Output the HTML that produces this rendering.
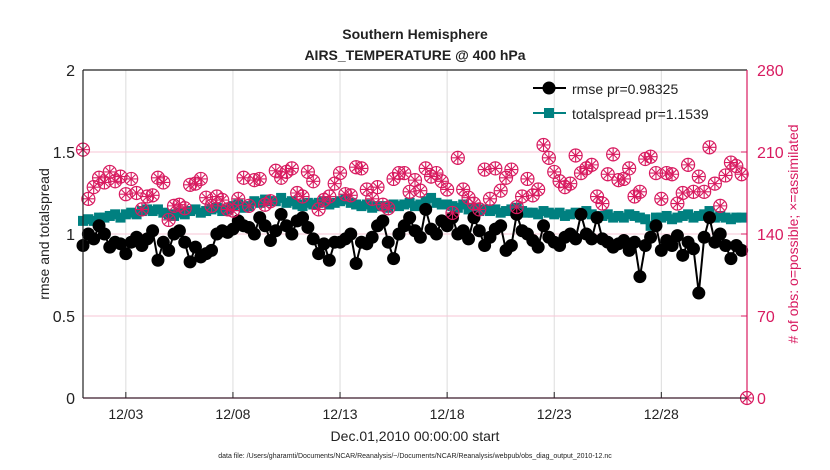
<!DOCTYPE html>
<html><head><meta charset="utf-8"><style>
body{margin:0;background:#fff;width:830px;height:470px;overflow:hidden}
svg{display:block;font-family:"Liberation Sans",Arial,sans-serif}
</style></head><body>
<svg id="chart" width="830" height="470">
<text x="415" y="39" text-anchor="middle" font-size="14" font-weight="bold" fill="#222">Southern Hemisphere</text>
<text x="415" y="60" text-anchor="middle" font-size="14" font-weight="bold" fill="#222">AIRS_TEMPERATURE @ 400 hPa</text>
<g id="grid"></g>
<g id="series"></g>
<g id="axes"></g>
<text transform="translate(49,234) rotate(-90)" text-anchor="middle" font-size="14" fill="#222">rmse and totalspread</text>
<text transform="translate(798,234) rotate(-90)" text-anchor="middle" font-size="14" fill="#d81b60"># of obs: o=possible; ×=assimilated</text>
<text x="415" y="441" text-anchor="middle" font-size="14" fill="#222">Dec.01,2010 00:00:00 start</text>
<text x="415" y="458" text-anchor="middle" font-size="7" fill="#222">data file: /Users/gharamti/Documents/NCAR/Reanalysis/~/Documents/NCAR/Reanalysis/webpub/obs_diag_output_2010-12.nc</text>
<g id="legend"></g>
</svg>
<script>
const rmse=[0.93,1.0,0.97,1.05, 1.0,0.92,0.95,0.94, 0.88,0.95,0.98,0.93, 0.97,1.02,0.84,0.95, 0.9,1.0,1.02,0.95, 0.83,0.92,0.86,0.88, 0.9,1.0,1.02,1.01, 1.03,1.08,1.05,1.04, 1.0,1.1,1.05,0.96, 1.02,1.12,1.05,1.0, 1.08,1.1,1.04,0.97, 0.88,0.94,0.84,0.95, 0.95,0.97,1.0,0.82, 0.95,0.94,0.98,1.05, 1.08,0.95,0.85,1.0, 1.05,1.1,1.02,0.98, 1.15,1.03,1.0,1.08, 1.05,1.1,1.0,1.02, 0.97,1.1,1.02,0.93, 0.98,1.03,1.05,0.9, 0.93,1.12,1.02,1.0, 0.96,0.92,1.05,0.98, 0.95,0.93,0.98,1.0, 0.97,1.12,1.0,0.97, 1.1,0.97,0.95,0.92, 0.94,0.96,0.9,0.95, 0.74,0.93,0.98,1.05, 0.9,0.96,0.93,0.99, 0.87,0.95,0.91,0.64, 0.98,1.1,0.95,1.0, 0.93,0.85,0.93,0.9, null];
const spread=[1.08,1.09,1.08,1.1, 1.1,1.11,1.12,1.1, 1.12,1.13,1.12,1.14, 1.15,1.14,1.15,1.13, 1.12,1.11,1.13,1.12, 1.14,1.15,1.13,1.14, 1.15,1.16,1.14,1.15, 1.17,1.18,1.16,1.17, 1.2,1.19,1.21,1.2, 1.2,1.22,1.19,1.2, 1.18,1.17,1.19,1.18, 1.19,1.2,1.18,1.19, 1.2,1.21,1.19,1.18, 1.17,1.18,1.16,1.17, 1.17,1.16,1.18,1.17, 1.18,1.19,1.17,1.18, 1.2,1.22,1.19,1.18, 1.18,1.17,1.16,1.18, 1.15,1.16,1.14,1.15, 1.14,1.15,1.13,1.14, 1.15,1.16,1.14,1.13, 1.13,1.12,1.14,1.13, 1.12,1.13,1.11,1.12, 1.13,1.12,1.14,1.12, 1.1,1.11,1.12,1.1, 1.11,1.1,1.12,1.11, 1.1,1.09,1.05,1.1, 1.1,1.11,1.09,1.1, 1.11,1.12,1.1,1.11, 1.12,1.14,1.1,1.11, 1.1,1.09,1.1,1.1, null];
const nobs=[
212,170,180,188,
184,193,185,189,
174,187,175,161,
172,173,188,184,
152,164,165,162,
182,183,187,171,
164,172,169,161,
160,170,188,164,
186,187,165,168,
194,188,193,196,
175,172,193,185,
161,169,172,183,
192,174,173,197,
196,178,170,180,
165,162,187,192,
192,176,186,177,
196,189,192,185,
178,158,205,178,
171,166,161,195,
170,196,177,188,
195,163,172,187,
173,178,216,205,
193,185,180,183,
207,192,196,199,
172,166,191,208,
186,187,196,172,
176,204,206,192,
170,192,191,166,
175,199,176,189,
176,214,183,164,
190,201,198,191,
0];
const tickLabels=["12/03","12/08","12/13","12/18","12/23","12/28"];
const tickDays=[2,7,12,17,22,27];
const leftTicks=[0,0.5,1,1.5,2];
const rightTicks=[0,70,140,210,280];
const X0=83,X1=747,Y0=398,Y1=70;
const xS=d=>X0+d/31*(X1-X0);
const yL=v=>Y0-v/2*(Y0-Y1);
const yR=v=>Y0-v/280*(Y0-Y1);
const NS="http://www.w3.org/2000/svg";
function mk(tag,attrs,parent){const e=document.createElementNS(NS,tag);for(const k in attrs)e.setAttribute(k,attrs[k]);parent.appendChild(e);return e;}
const grid=document.getElementById('grid'),ser=document.getElementById('series'),ax=document.getElementById('axes'),leg=document.getElementById('legend');
const MAG="#d81b60";
tickDays.forEach((d,i)=>{
 const g=mk('line',{x1:xS(d),x2:xS(d),y1:Y1,y2:Y0,stroke:"#dcdcdc","stroke-width":1},grid);
 
 
 const t=mk('line',{x1:xS(d),x2:xS(d),y1:Y0,y2:Y0-6,stroke:"#222","stroke-width":1},ax);
 
 
 const l=mk('text',{x:xS(d),y:Y0+21,"text-anchor":"middle","font-size":14,fill:"#222"},ax);
 l.textContent=tickLabels[i];
 
 
});
leftTicks.forEach((v,i)=>{
 if(v>0&&v<2){const g=mk('line',{x1:X0,x2:X1,y1:yL(v),y2:yL(v),stroke:"#f7c6d6","stroke-width":1},grid);
 
 }
 const l=mk('text',{x:X0-8,y:yL(v)+6,"text-anchor":"end","font-size":16,fill:"#222"},ax);
 l.textContent=String(v);
 
 
});
rightTicks.forEach(v=>{
 const l=mk('text',{x:X1+10,y:yR(v)+6,"text-anchor":"start","font-size":16,fill:MAG},ax);
 l.textContent=String(v);
 
 
 const t=mk('line',{x1:X1,x2:X1-6,y1:yR(v),y2:yR(v),stroke:MAG},ax);
 
 
});
let a=mk('line',{x1:X0,x2:X0,y1:Y1,y2:Y0,stroke:"#222","stroke-width":1.2},ax);

a=mk('line',{x1:X0,x2:X1,y1:Y0,y2:Y0,stroke:"#3a1a2a","stroke-width":1.2},ax);

a=mk('line',{x1:X0,x2:X1,y1:Y1,y2:Y1,stroke:"#222","stroke-width":1.2},ax);

a=mk('line',{x1:X1,x2:X1,y1:Y1,y2:Y0,stroke:MAG,"stroke-width":1.2},ax);

function pathOf(arr,ys){let d="",pen=false;arr.forEach((v,i)=>{if(v==null){pen=false;return;}d+=(pen?"L":"M")+xS(i*0.25).toFixed(1)+","+ys(v).toFixed(1);pen=true;});return d;}
let p=mk('path',{d:pathOf(spread,yL),fill:"none",stroke:"#008080","stroke-width":2},ser);

spread.forEach((v,i)=>{if(v==null)return;
 const r=mk('rect',{x:xS(i*0.25)-5,y:yL(v)-5,width:10,height:10,fill:"#008080"},ser);
 
 });
p=mk('path',{d:pathOf(rmse,yL),fill:"none",stroke:"#000","stroke-width":2},ser);

rmse.forEach((v,i)=>{if(v==null)return;
 const c=mk('circle',{cx:xS(i*0.25),cy:yL(v),r:6.5,fill:"#000"},ser);
 
 });
function obsMark(x,y,parent){
 const g=mk('g',{},parent);
 mk('circle',{cx:x,cy:y,r:6.5,fill:"none",stroke:MAG,"stroke-width":1.2},g);
 mk('path',{d:`M${x-6},${y}H${x+6}M${x},${y-7}V${y+7}M${x-4.2},${y-4.2}L${x+4.2},${y+4.2}M${x-4.2},${y+4.2}L${x+4.2},${y-4.2}`,stroke:MAG,"stroke-width":1.1},g);
 return g;}
nobs.forEach((v,i)=>{
 const g=obsMark(xS(i*0.25),yR(v),ser);
 
 });
let lg=mk('line',{x1:533,x2:566,y1:88,y2:88,stroke:"#000","stroke-width":2},leg);

lg=mk('circle',{cx:549,cy:88,r:6.5,fill:"#000"},leg);

lg=mk('text',{x:572,y:94,"font-size":14,fill:"#222"},leg);lg.textContent="rmse pr=0.98325";

lg=mk('line',{x1:533,x2:566,y1:113,y2:113,stroke:"#008080","stroke-width":2},leg);

lg=mk('rect',{x:544,y:108,width:10,height:10,fill:"#008080"},leg);

lg=mk('text',{x:572,y:119,"font-size":14,fill:"#222"},leg);lg.textContent="totalspread pr=1.1539";

</script>
</body></html>
